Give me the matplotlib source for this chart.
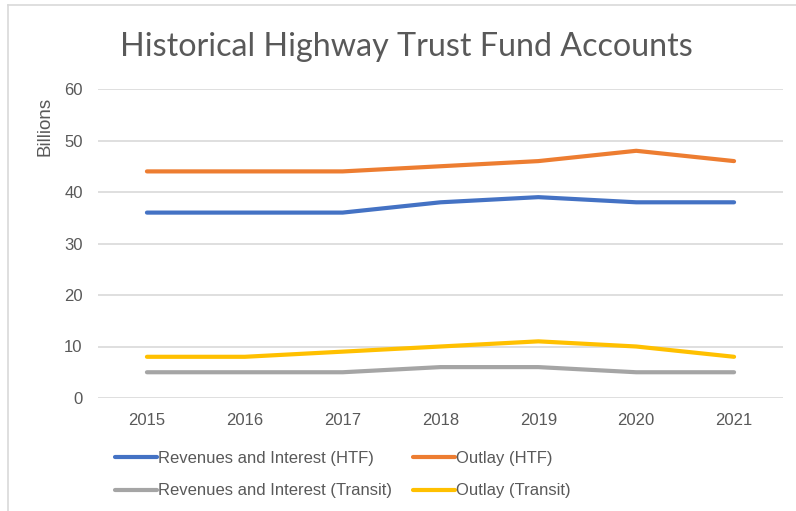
import matplotlib.pyplot as plt
from matplotlib.lines import Line2D

years = ['2015', '2016', '2017', '2018', '2019', '2020', '2021']
rev_htf = [36, 36, 36, 38, 39, 38, 38]
outlay_htf = [44, 44, 44, 45, 46, 48, 46]
rev_transit = [5, 5, 5, 6, 6, 5, 5]
outlay_transit = [8, 8, 9, 10, 11, 10, 8]

series = [
    ('Revenues and Interest (HTF)', rev_htf, '#4472C4'),
    ('Outlay (HTF)', outlay_htf, '#ED7D31'),
    ('Revenues and Interest (Transit)', rev_transit, '#A5A5A5'),
    ('Outlay (Transit)', outlay_transit, '#FFC000'),
]

text_color = '#595959'
plt.rcParams['font.family'] = ['Liberation Sans', 'DejaVu Sans']

fig = plt.figure(figsize=(7.96, 5.11), dpi=100)
ax = fig.add_axes([98 / 796, 1 - 398 / 511, 685 / 796, 309 / 511])

x = list(range(len(years)))
for label, vals, color in series:
    ax.plot(x, vals, color=color, lw=3, label=label, solid_capstyle='round')

ax.set_xlim(-0.5, len(years) - 0.5)
ax.set_ylim(0, 60)
ax.set_yticks(range(0, 61, 10))
ax.set_xticks(x)
ax.set_xticklabels(years)
ax.grid(axis='y', color='#D9D9D9', lw=1.2)
ax.set_axisbelow(True)
for s in ax.spines.values():
    s.set_visible(False)
ax.tick_params(length=0, labelsize=12, colors=text_color)
ax.tick_params(axis='x', pad=11)
ax.tick_params(axis='y', pad=11)

fig.text(45 / 796, 1 - 126 / 511, 'Billions', rotation=90, ha='center',
         va='center', fontsize=13.5, color=text_color)

fig.text(406 / 796, 1 - 47 / 511, 'Historical Highway Trust Fund Accounts',
         ha='center', va='center', fontsize=23.2, color=text_color,
         family=['Lato', 'DejaVu Sans'])

# legend below the plot, filled row by row
handles, labels = ax.get_legend_handles_labels()
order = [0, 2, 1, 3]
fig.legend([handles[i] for i in order], [labels[i] for i in order],
           ncol=2, loc='upper left',
           bbox_to_anchor=(100 / 796, 1 - 436 / 511), frameon=False,
           prop={'size': 12}, labelcolor=text_color,
           handlelength=2.5, handletextpad=0.05,
           columnspacing=1.3, labelspacing=1.05)

# light frame at top and left
fig.add_artist(Line2D([8 / 796, 1], [1 - 5 / 511, 1 - 5 / 511],
                      transform=fig.transFigure, color='#D9D9D9', lw=1.2))
fig.add_artist(Line2D([8 / 796, 8 / 796], [0, 1 - 5 / 511],
                      transform=fig.transFigure, color='#D9D9D9', lw=1.2))

fig.savefig('out.png', dpi=100)
